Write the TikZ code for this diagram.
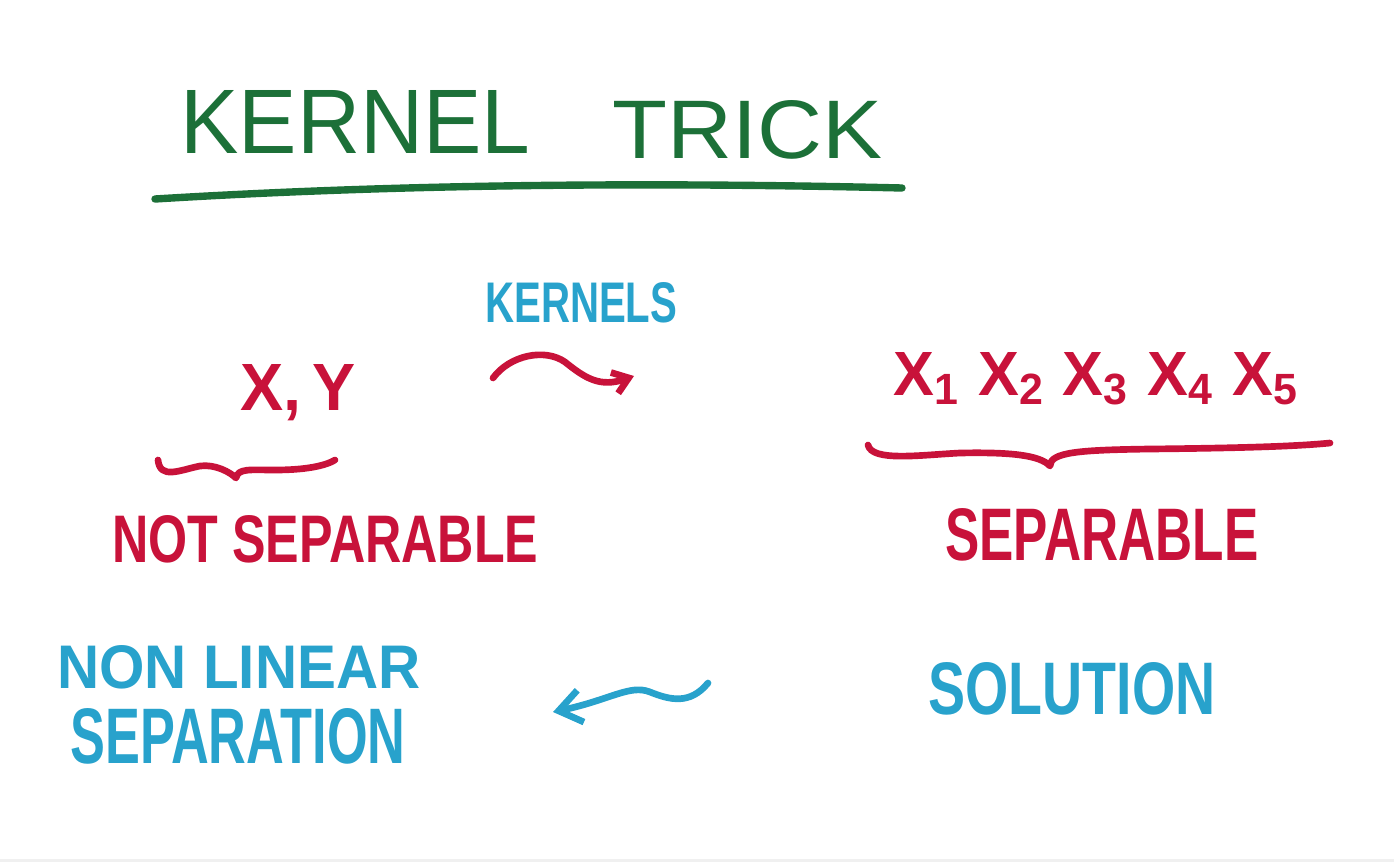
\documentclass[tikz,border=0pt]{standalone}
\usepackage{fontspec}
\setmainfont{Liberation Sans}
\usetikzlibrary{arrows.meta}

\definecolor{markergreen}{RGB}{28,112,56}
\definecolor{markerred}{RGB}{200,18,58}
\definecolor{markerblue}{RGB}{40,162,204}

\newlength{\pxu}
\setlength{\pxu}{0.02cm}
% hand lettering: width, cap height, text
\newcommand{\hand}[3]{\resizebox{#1\pxu}{#2\pxu}{#3}}

\tikzset{
  lettering/.style={inner sep=0pt, anchor=base west, font=\bfseries},
  marker/.style={line width=3.8pt, line cap=round, line join=round}
}

\begin{document}
\begin{tikzpicture}[x=0.02cm, y=-0.02cm]
 					\useasboundingbox (0,0) rectangle (1394,862);
 					\fill [gray!12] (0,859) rectangle (1394,862);
 					
 					\node [lettering, markergreen, font=\mdseries] (kernel) at (180,153) {\hand{350}{63}{KERNEL}};
 					\node [lettering, markergreen, font=\mdseries] (trick) at (612,158) {\hand{270}{58}{TRICK}};
 					\draw [marker, markergreen, line width=4.2pt] (155,199) .. controls (400,184) and (650,182) .. (902,188);
 					
 					\node [lettering, markerblue] (kernels) at (485,322) {\hand{192}{40}{KERNELS}};
 					
 					\node [lettering, markerred] (xy) at (240,410) {\hand{115}{46}{X,\,Y}};
 					\draw [marker, markerred] (158,460) .. controls (160,480) and (180,470) .. (200,466)
 						.. controls (215,464) and (230,472) .. (236,478)
 						.. controls (238,468) and (250,470) .. (275,470)
 						.. controls (305,470) and (325,466) .. (335,460);
 					\node [lettering, markerred] (notsep) at (112,562) {\hand{426}{47}{NOT SEPARABLE}};
 					
 					\coordinate (kstart) at (493,378);
 					\coordinate (kend) at (634,376);
 					\draw [->, marker, markerred, >={Straight Barb[length=3mm, width=4.4mm]}] (kstart)
 						.. controls (510,355) and (545,348) .. (565,362)
 						.. controls (585,378) and (600,388) .. (kend);
 					
 					\node [lettering, markerred] (xs) at (893,395) {\hand{407}{43}{X\textsubscript{1} X\textsubscript{2} X\textsubscript{3} X\textsubscript{4} X\textsubscript{5}}};
 					\draw [marker, markerred] (868,445) .. controls (872,462) and (920,455) .. (960,453)
 						.. controls (1010,452) and (1040,455) .. (1050,466)
 						.. controls (1050,452) and (1080,450) .. (1150,449)
 						.. controls (1250,448) and (1300,446) .. (1330,443);
 					\node [lettering, markerred] (sep) at (945,560) {\hand{313}{52}{SEPARABLE}};
 					
 					\node [lettering, markerblue] (nonlin) at (57,688) {\hand{363}{43}{NON LINEAR}};
 					\node [lettering, markerblue] (separation) at (70,763) {\hand{335}{55}{SEPARATION}};
 					\node [lettering, markerblue] (solution) at (928,714) {\hand{287}{52}{SOLUTION}};
 					
 					\coordinate (sstart) at (708,683);
 					\coordinate (send) at (553,712);
 					\draw [->, marker, markerblue, >={Straight Barb[length=4.5mm, width=6.5mm]}] (sstart)
 						.. controls (690,705) and (670,700) .. (650,692)
 						.. controls (630,684) and (610,700) .. (send);
\end{tikzpicture}
\end{document}
